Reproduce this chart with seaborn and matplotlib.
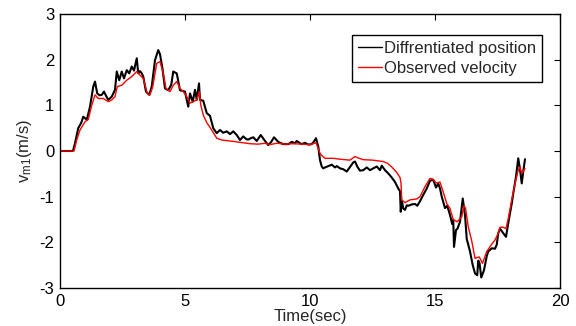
import matplotlib
matplotlib.use("Agg")
import matplotlib.pyplot as plt
import pandas as pd
import seaborn as sns

# Differentiated position signal (time in s, velocity in m/s)
diff_t = [0.0, 0.5, 0.53, 0.6, 0.73, 0.85, 0.93, 1.0, 1.07, 1.2, 1.33, 1.4, 1.49, 1.58,
          1.67, 1.76, 1.85, 1.93, 2.07, 2.2, 2.27, 2.37, 2.47, 2.56, 2.67, 2.77, 2.87,
          2.96, 3.07, 3.13, 3.2, 3.27, 3.33, 3.44, 3.57, 3.67, 3.8, 3.93, 4.0, 4.1, 4.2,
          4.33, 4.45, 4.53, 4.67, 4.8, 5.0, 5.13, 5.2, 5.31, 5.4, 5.47, 5.56, 5.6, 5.73,
          5.87, 6.0, 6.13, 6.27, 6.4, 6.53, 6.67, 6.8, 6.93, 7.07, 7.2, 7.33, 7.45, 7.53,
          7.63, 7.73, 7.87, 8.03, 8.2, 8.33, 8.45, 8.56, 8.73, 8.93, 9.13, 9.27, 9.4,
          9.47, 9.6, 9.67, 9.8, 9.93, 10.07, 10.15, 10.24, 10.33, 10.4, 10.47, 10.53,
          10.6, 10.73, 10.87, 11.0, 11.07, 11.2, 11.33, 11.47, 11.6, 11.73, 11.8, 11.9,
          12.0, 12.13, 12.27, 12.4, 12.53, 12.67, 12.8, 12.87, 13.0, 13.13, 13.27, 13.4,
          13.53, 13.6, 13.63, 13.67, 13.73, 13.8, 13.87, 13.93, 14.07, 14.2, 14.29, 14.4,
          14.53, 14.67, 14.8, 14.93, 15.04, 15.13, 15.2, 15.27, 15.4, 15.49, 15.6, 15.69,
          15.73, 15.76, 15.84, 15.9, 16.0, 16.11, 16.2, 16.27, 16.33, 16.4, 16.51, 16.6,
          16.69, 16.73, 16.78, 16.85, 16.96, 17.07, 17.13, 17.27, 17.4, 17.47, 17.53,
          17.6, 17.73, 17.84, 17.93, 18.07, 18.13, 18.24, 18.33, 18.4, 18.47, 18.53, 18.6]
diff_v = [0.0, 0.0, 0.02, 0.17, 0.50, 0.62, 0.75, 0.72, 0.68, 0.97, 1.41, 1.52, 1.26, 1.22,
          1.23, 1.30, 1.20, 1.12, 1.19, 1.34, 1.74, 1.55, 1.74, 1.59, 1.77, 1.70, 1.85,
          1.76, 2.03, 1.70, 1.75, 1.70, 1.63, 1.30, 1.23, 1.41, 1.99, 2.21, 2.12, 1.80, 1.37,
          1.33, 1.45, 1.74, 1.70, 1.33, 1.30, 0.97, 1.26, 1.08, 1.34, 1.12, 1.48, 1.12, 1.10,
          0.83, 0.77, 0.50, 0.39, 0.46, 0.40, 0.43, 0.37, 0.43, 0.35, 0.24, 0.32, 0.26, 0.25,
          0.28, 0.30, 0.22, 0.35, 0.22, 0.13, 0.20, 0.30, 0.20, 0.15, 0.15, 0.20, 0.17,
          0.22, 0.17, 0.15, 0.18, 0.14, 0.15, 0.20, 0.28, 0.10, -0.20, -0.34, -0.38,
          -0.36, -0.33, -0.30, -0.36, -0.33, -0.38, -0.40, -0.45, -0.35, -0.25, -0.23, -0.35,
          -0.43, -0.42, -0.36, -0.42, -0.38, -0.34, -0.42, -0.32, -0.42, -0.49, -0.58, -0.68,
          -0.82, -0.88, -1.33, -1.08, -1.26, -1.29, -1.19, -1.20, -1.17, -1.16, -1.20, -1.10,
          -0.96, -0.82, -0.65, -0.63, -0.80, -0.71, -0.82, -1.00, -1.25, -1.20, -1.40, -1.60,
          -1.51, -2.10, -1.73, -1.70, -1.55, -1.04, -1.40, -1.93, -2.05, -2.20, -2.50, -2.68,
          -2.72, -2.40, -2.45, -2.77, -2.61, -2.30, -2.20, -2.13, -2.14, -2.05, -1.80,
          -1.70, -1.80, -1.88, -1.58, -1.15, -0.93, -0.56, -0.16, -0.40, -0.71, -0.45, -0.18]

# Observer velocity estimate
obs_t = [0.0, 0.56, 0.67, 0.8, 1.0, 1.13, 1.27, 1.4, 1.53, 1.73, 1.93, 2.07, 2.2, 2.29,
         2.47, 2.67, 2.87, 3.07, 3.2, 3.33, 3.49, 3.6, 3.71, 3.87, 4.0, 4.13, 4.24, 4.4,
         4.53, 4.67, 4.8, 4.93, 5.07, 5.2, 5.33, 5.47, 5.57, 5.63, 5.73, 5.87, 6.07, 6.27,
         6.47, 6.93, 7.33, 7.6, 7.93, 8.2, 8.4, 8.67, 9.0, 9.33, 9.67, 10.0, 10.24, 10.4,
         10.47, 10.6, 10.93, 11.2, 11.6, 11.8, 11.87, 12.13, 12.5, 12.93, 13.1, 13.27,
         13.47, 13.6, 13.64, 13.67, 13.8, 14.0, 14.27, 14.4, 14.6, 14.8, 14.93, 15.05,
         15.2, 15.33, 15.47, 15.6, 15.73, 15.89, 16.07, 16.15, 16.22, 16.33, 16.47, 16.6,
         16.77, 16.9, 17.07, 17.27, 17.4, 17.53, 17.6, 17.73, 17.84, 17.93, 18.07, 18.2,
         18.33, 18.4, 18.47, 18.53, 18.6]
obs_v = [0.0, 0.0, 0.24, 0.46, 0.64, 0.69, 1.00, 1.23, 1.15, 1.15, 1.08, 1.12, 1.19, 1.41,
         1.44, 1.55, 1.63, 1.74, 1.66, 1.59, 1.26, 1.23, 1.41, 1.92, 1.96, 1.70, 1.37, 1.30,
         1.44, 1.52, 1.37, 1.30, 1.19, 1.05, 1.08, 1.12, 1.30, 1.01, 0.79, 0.62, 0.46, 0.28,
         0.24, 0.21, 0.18, 0.16, 0.15, 0.17, 0.14, 0.17, 0.15, 0.16, 0.15, 0.14, 0.18, -0.05,
         -0.10, -0.16, -0.16, -0.18, -0.20, -0.12, -0.14, -0.19, -0.20, -0.23, -0.27, -0.35,
         -0.47, -0.58, -0.70, -1.07, -1.13, -1.07, -1.05, -1.00, -0.78, -0.60, -0.62, -0.70,
         -0.68, -0.90, -1.15, -1.26, -1.50, -1.55, -1.44, -1.20, -1.25, -1.66, -1.97, -2.35,
         -2.32, -2.46, -2.20, -2.04, -1.95, -1.80, -1.67, -1.67, -1.70, -1.48, -1.07, -0.71,
         -0.42, -0.35, -0.49, -0.45, -0.38]

series_names = ["Diffrentiated position", "Observed velocity"]
x_ticks = [0, 5, 10, 15, 20]
y_ticks = [-3, -2, -1, 0, 1, 2, 3]

sns.set_theme(style="white")
plt.rcParams["font.family"] = ["Liberation Sans", "DejaVu Sans"]
plt.rcParams["axes.unicode_minus"] = False
plt.rcParams["mathtext.default"] = "regular"

df = pd.concat([
    pd.DataFrame({"t": diff_t, "v": diff_v, "signal": series_names[0]}),
    pd.DataFrame({"t": obs_t, "v": obs_v, "signal": series_names[1]}),
], ignore_index=True)

fig = plt.figure(figsize=(5.76, 3.26), dpi=100)
ax = fig.add_axes([60 / 576, 1 - 288 / 326, 500 / 576, 274 / 326])

sns.lineplot(data=df, x="t", y="v", hue="signal", hue_order=series_names,
             palette=["black", "red"], estimator=None, sort=False, ax=ax)
for line, lw in zip(ax.get_lines(), [1.5, 1.0]):
    line.set_linewidth(lw)

ax.set_xlim(0, 20)
ax.set_ylim(-3, 3)
ax.set_xticks(x_ticks)
ax.set_yticks(y_ticks)
ax.tick_params(direction="in", length=4, width=0.8, top=True, right=True,
               labelsize=12, colors="black", pad=4)
ax.set_xlabel("Time(sec)", fontsize=12, labelpad=0)
ax.set_ylabel("v$_{m1}$(m/s)", fontsize=12, labelpad=4)
for sp in ax.spines.values():
    sp.set_color("black")
    sp.set_linewidth(1.0)

handles, labels = ax.get_legend_handles_labels()
leg = ax.legend(handles, labels, loc="upper right", bbox_to_anchor=(0.964, 0.923),
                borderaxespad=0, fontsize=12, frameon=True, fancybox=False,
                framealpha=1, edgecolor="black", handlelength=1.4, handletextpad=0.15,
                borderpad=0.35, labelspacing=0.3)
leg.get_frame().set_linewidth(1.0)
for h in leg.get_lines():
    h.set_linewidth(1.0)

fig.savefig("out.png", dpi=100)
